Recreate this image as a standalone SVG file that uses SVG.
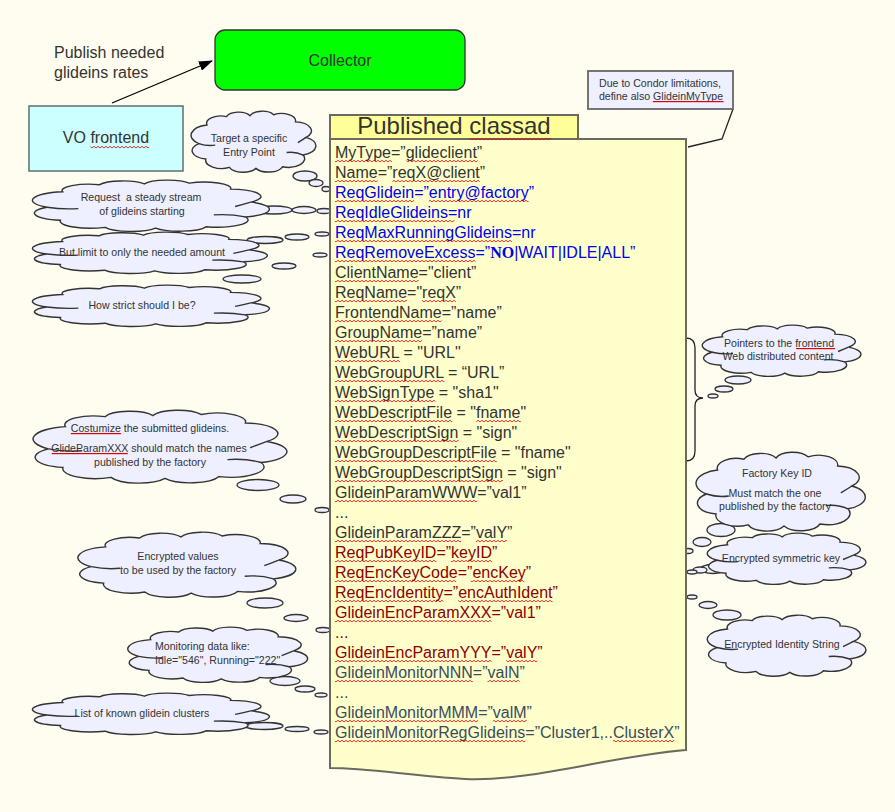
<svg xmlns="http://www.w3.org/2000/svg" width="895" height="812" viewBox="0 0 895 812">
<style>
text{font-family:"Liberation Sans",Arial,sans-serif;fill:#333333}
.big{font-size:16px}
.sm{font-size:10.6px}
.mid{text-anchor:middle}
.ln{font-size:16px}
.bl{fill:#0000EE}
.rd{fill:#8B0000}
.mo{fill:#3B4B5B}
.w1{fill:url(#wv1)}
.w2{fill:url(#wv2)}
.su{fill:#E00000}
.cl{fill:#EEF0FF;stroke:#333333;stroke-width:1.4;vector-effect:non-scaling-stroke}
.cr{fill:none;stroke:#333333;stroke-width:1.4;vector-effect:non-scaling-stroke}
.bb{fill:#EEF0FF;stroke:#333333;stroke-width:1.3}
.ctr{fill:none;stroke:#222222;stroke-width:1.3}
</style>
<defs>
<g id="cloud">
<path class="cl" d="M -0.92 0.05 A .34 .34 0 0 1 -0.78 -0.55 A .24 .24 0 0 1 -0.45 -0.82 A .22 .22 0 0 1 -0.05 -0.85 A .22 .22 0 0 1 0.35 -0.88 A .24 .24 0 0 1 0.72 -0.65 A .29 .29 0 0 1 0.9 -0.15 A .31 .31 0 0 1 0.85 0.42 A .28 .28 0 0 1 0.5 0.8 A .25 .25 0 0 1 0.05 0.85 A .25 .25 0 0 1 -0.4 0.82 A .27 .27 0 0 1 -0.8 0.55 A .28 .28 0 0 1 -0.92 0.05 Z"/>
<path class="cr" d="M -0.92 0.05 Q -0.78 0.14 -0.64 0.1 M 0.85 0.42 Q 0.72 0.3 0.57 0.34 M 0.9 -0.15 Q 0.82 -0.05 0.76 0.02"/>
</g>
<pattern id="wv1" x="0" y="3" width="4" height="4" patternUnits="userSpaceOnUse">
<path d="M0,3.2 L2,1.2 L4,3.2" fill="none" stroke="#E00000" stroke-width="0.9"/>
</pattern>
<pattern id="wv2" x="0" y="1" width="4" height="4" patternUnits="userSpaceOnUse">
<path d="M0,3.2 L2,1.2 L4,3.2" fill="none" stroke="#E00000" stroke-width="0.9"/>
</pattern>
<marker id="ah" viewBox="0 0 14 10" refX="13" refY="5" markerWidth="14" markerHeight="10" markerUnits="userSpaceOnUse" orient="auto">
<path d="M0,0 L14,5 L0,10 Z" fill="#000"/>
</marker>
</defs>
<rect x="0" y="0" width="895" height="812" fill="#FFFDF0"/>

<g id="connectors">
<line x1="112" y1="103" x2="212" y2="61" stroke="#000" stroke-width="1.3" marker-end="url(#ah)"/>
<polyline class="ctr" points="733,109 722,139 688,147"/>
<path class="ctr" d="M686,338 Q695,338 695,348 L695,390 Q695,398 703,398 Q695,398 695,406 L695,451 Q695,461 686,461"/>
<ellipse class="bb" cx="305" cy="176" rx="12" ry="5"/>
<ellipse class="bb" cx="316" cy="183" rx="7" ry="3.5"/>
<ellipse class="bb" cx="326" cy="189" rx="4" ry="2.5"/>
<ellipse class="bb" cx="274" cy="210" rx="18" ry="4"/>
<ellipse class="bb" cx="304" cy="210" rx="12" ry="3.5"/>
<ellipse class="bb" cx="324" cy="211" rx="7" ry="2.5"/>
<ellipse class="bb" cx="265" cy="240" rx="18" ry="3.5"/>
<ellipse class="bb" cx="297" cy="237" rx="12" ry="3"/>
<ellipse class="bb" cx="322" cy="234" rx="7" ry="2"/>
<ellipse class="bb" cx="242" cy="279" rx="19" ry="4"/>
<ellipse class="bb" cx="284" cy="266" rx="12" ry="3"/>
<ellipse class="bb" cx="320" cy="255" rx="7" ry="2"/>
<ellipse class="bb" cx="258" cy="485" rx="21" ry="5.5"/>
<ellipse class="bb" cx="293" cy="499" rx="13" ry="4"/>
<ellipse class="bb" cx="322" cy="510" rx="7" ry="2.5"/>
<ellipse class="bb" cx="265" cy="603" rx="18" ry="5"/>
<ellipse class="bb" cx="296" cy="618" rx="12" ry="3.5"/>
<ellipse class="bb" cx="323" cy="630" rx="7" ry="2.5"/>
<ellipse class="bb" cx="285" cy="681" rx="15" ry="4.5"/>
<ellipse class="bb" cx="305" cy="689" rx="10" ry="3"/>
<ellipse class="bb" cx="321" cy="695" rx="6" ry="2"/>
<ellipse class="bb" cx="264" cy="726" rx="19" ry="3.5"/>
<ellipse class="bb" cx="297" cy="729" rx="12" ry="2.5"/>
<ellipse class="bb" cx="321" cy="732" rx="7" ry="2"/>
<ellipse class="bb" cx="738" cy="380" rx="13" ry="4"/>
<ellipse class="bb" cx="724" cy="389" rx="9" ry="3"/>
<ellipse class="bb" cx="713" cy="396" rx="5" ry="2"/>
<ellipse class="bb" cx="721" cy="530" rx="14" ry="6.5"/>
<ellipse class="bb" cx="702" cy="542" rx="9" ry="4.5"/>
<ellipse class="bb" cx="688" cy="551" rx="5" ry="2.5"/>
<ellipse class="bb" cx="713" cy="569" rx="13" ry="4.5"/>
<ellipse class="bb" cx="700" cy="570" rx="7" ry="3"/>
<ellipse class="bb" cx="692" cy="572" rx="5" ry="2"/>
<ellipse class="bb" cx="692" cy="597" rx="5" ry="2"/>
<ellipse class="bb" cx="708" cy="605" rx="9" ry="3.5"/>
<ellipse class="bb" cx="727" cy="615" rx="14" ry="5"/>
</g>

<g id="collector">
<rect x="215" y="30" width="250" height="60" rx="10" fill="#00FF00" stroke="#333333" stroke-width="1.3"/>
<text class="big mid" x="340" y="66">Collector</text>
</g>

<g id="publish-label">
<text class="big" x="54" y="58">Publish needed</text>
<text class="big" x="54" y="78">glideins rates</text>
</g>

<g id="vo-frontend">
<rect x="29" y="106" width="154" height="65" fill="#CCFFFF" stroke="#5E7070" stroke-width="1.5"/>
<text class="big mid" x="106" y="143">VO frontend</text>
<rect class="w2" x="90.4" y="145" width="58.7" height="4"/>
</g>

<g id="note">
<rect x="588" y="71" width="145" height="38" fill="#EEF0FF" stroke="#666666" stroke-width="1.8"/>
<text class="sm mid" x="660" y="87">Due to Condor limitations,</text>
<text class="sm mid" x="661" y="100">define also GlideinMyType</text>
<rect class="su" x="652.8" y="101" width="70.7" height="1.2"/>
</g>

<g id="classad">
<path d="M330,139 H686 V750 C610,756 530,782 465,779 C410,776 370,768 330,768 Z" fill="#FFFFCC" stroke="#6B6B5B" stroke-width="2"/>
<rect x="330" y="115" width="248" height="24" fill="#FFFF99" stroke="#6B6B5B" stroke-width="2"/>
<text class="mid" x="454" y="134" font-size="24">Published classad</text>
<rect class="w2" x="469.4" y="137" width="81.4" height="4"/>
<text class="ln" x="335" y="158">MyType=”glideclient”</text>
<text class="ln" x="335" y="178">Name=”reqX@client”</text>
<text class="ln bl" x="335" y="198">ReqGlidein=”entry@factory”</text>
<text class="ln bl" x="335" y="218">ReqIdleGlideins=nr</text>
<text class="ln bl" x="335" y="238">ReqMaxRunningGlideins=nr</text>
<text class="ln bl" x="335" y="258">ReqRemoveExcess=”<tspan font-family="'Liberation Serif',serif" font-weight="bold">NO</tspan>|WAIT|IDLE|ALL”</text>
<text class="ln" x="335" y="278">ClientName="client”</text>
<text class="ln" x="335" y="298">ReqName="reqX”</text>
<text class="ln" x="335" y="318">FrontendName=”name”</text>
<text class="ln" x="335" y="338">GroupName=”name”</text>
<text class="ln" x="335" y="358">WebURL = "URL"</text>
<text class="ln" x="335" y="378">WebGroupURL = “URL”</text>
<text class="ln" x="335" y="398">WebSignType = "sha1"</text>
<text class="ln" x="335" y="418">WebDescriptFile = "fname"</text>
<text class="ln" x="335" y="438">WebDescriptSign = "sign"</text>
<text class="ln" x="335" y="458">WebGroupDescriptFile = "fname"</text>
<text class="ln" x="335" y="478">WebGroupDescriptSign = "sign"</text>
<text class="ln" x="335" y="498">GlideinParamWWW=”val1”</text>
<text class="ln" x="335" y="518">...</text>
<text class="ln" x="335" y="538">GlideinParamZZZ=”valY”</text>
<text class="ln rd" x="335" y="558">ReqPubKeyID=”keyID”</text>
<text class="ln rd" x="335" y="578">ReqEncKeyCode=”encKey”</text>
<text class="ln rd" x="335" y="598">ReqEncIdentity=”encAuthIdent”</text>
<text class="ln rd" x="335" y="618">GlideinEncParamXXX=”val1”</text>
<text class="ln rd" x="335" y="638">...</text>
<text class="ln rd" x="335" y="658">GlideinEncParamYYY=”valY”</text>
<text class="ln mo" x="335" y="678">GlideinMonitorNNN=”valN”</text>
<text class="ln mo" x="335" y="698">...</text>
<text class="ln mo" x="335" y="718">GlideinMonitorMMM=”valM”</text>
<text class="ln mo" x="335" y="738">GlideinMonitorRegGlideins=”Cluster1,..ClusterX”</text>
<g id="spellcheck">
<rect class="w1" x="335" y="159" width="56.9" height="4"/><rect class="w1" x="406.6" y="159" width="71.1" height="4"/>
<rect class="w1" x="335" y="179" width="42.7" height="4"/><rect class="w1" x="392.3" y="179" width="87.4" height="4"/>
<rect class="w1" x="335" y="199" width="79.1" height="4"/><rect class="w1" x="428.8" y="199" width="99.8" height="4"/>
<rect class="w1" x="335" y="219" width="119.4" height="4"/>
<rect class="w1" x="335" y="239" width="176.9" height="4"/>
<rect class="w1" x="335" y="259" width="140.5" height="4"/>
<rect class="w1" x="335" y="279" width="83.6" height="4"/>
<rect class="w1" x="335" y="299" width="72" height="4"/><rect class="w1" x="422" y="299" width="33.8" height="4"/>
<rect class="w1" x="335" y="319" width="106.7" height="4"/>
<rect class="w1" x="335" y="339" width="87.1" height="4"/>
<rect class="w1" x="335" y="359" width="64.9" height="4"/>
<rect class="w1" x="335" y="379" width="109.4" height="4"/>
<rect class="w1" x="335" y="399" width="100.5" height="4"/>
<rect class="w1" x="335" y="419" width="117.3" height="4"/><rect class="w1" x="476.3" y="419" width="44.5" height="4"/>
<rect class="w1" x="335" y="439" width="123.6" height="4"/>
<rect class="w1" x="335" y="459" width="161.8" height="4"/>
<rect class="w1" x="335" y="479" width="168" height="4"/>
<rect class="w1" x="335" y="499" width="142.2" height="4"/>
<rect class="w1" x="335" y="539" width="126.2" height="4"/><rect class="w1" x="475.9" y="539" width="31.1" height="4"/>
<rect class="w1" x="335" y="559" width="101.4" height="4"/><rect class="w1" x="451" y="559" width="40.9" height="4"/>
<rect class="w1" x="335" y="579" width="121.1" height="4"/><rect class="w1" x="470.8" y="579" width="53.4" height="4"/>
<rect class="w1" x="335" y="599" width="108.5" height="4"/><rect class="w1" x="458.2" y="599" width="94.3" height="4"/>
<rect class="w1" x="335" y="619" width="156.5" height="4"/>
<rect class="w1" x="335" y="659" width="156.5" height="4"/><rect class="w1" x="506.2" y="659" width="31.1" height="4"/>
<rect class="w1" x="335" y="679" width="137.8" height="4"/><rect class="w1" x="487.5" y="679" width="32" height="4"/>
<rect class="w1" x="335" y="719" width="143.1" height="4"/><rect class="w1" x="492.8" y="719" width="33.8" height="4"/>
<rect class="w1" x="335" y="739" width="190.3" height="4"/><rect class="w1" x="612.9" y="739" width="61.3" height="4"/>
</g>
</g>

<g id="cloud-target">
<use href="#cloud" transform="translate(253 142) scale(59 31)"/>
<text class="sm mid" x="249" y="142">Target a specific</text>
<text class="sm mid" x="249" y="156">Entry Point</text>
</g>
<g id="cloud-request">
<use href="#cloud" transform="translate(150 206) scale(112 26)"/>
<text class="sm mid" x="141" y="201" style="white-space:pre">Request  a steady stream</text>
<text class="sm mid" x="142" y="215">of glideins starting</text>
</g>
<g id="cloud-limit">
<use href="#cloud" transform="translate(149 253) scale(111 21)"/>
<text class="sm mid" x="142" y="256">But limit to only the needed amount</text>
</g>
<g id="cloud-strict">
<use href="#cloud" transform="translate(150 306) scale(112 21)"/>
<text class="sm mid" x="142" y="309">How strict should I be?</text>
</g>
<g id="cloud-customize">
<use href="#cloud" transform="translate(159 447) scale(120 37)"/>
<text class="sm mid" x="150" y="432">Costumize the submitted glideins.</text>
<text class="sm mid" x="149" y="452">GlideParamXXX should match the names</text>
<text class="sm mid" x="150" y="466">published by the factory</text>
<rect class="su" x="70.8" y="433" width="50.1" height="1.2"/>
<rect class="su" x="51.7" y="453" width="76.1" height="1.2"/>
</g>
<g id="cloud-encrypted">
<use href="#cloud" transform="translate(186 565) scale(103 33)"/>
<text class="sm mid" x="178" y="560">Encrypted values</text>
<text class="sm mid" x="178" y="574">to be used by the factory</text>
</g>
<g id="cloud-monitoring">
<use href="#cloud" transform="translate(217 655) scale(85 28)"/>
<text class="sm" x="155" y="650">Monitoring data like:</text>
<text class="sm" x="155" y="664">Idle="546", Running="222"</text>
</g>
<g id="cloud-clusters">
<use href="#cloud" transform="translate(150 714) scale(112 21)"/>
<text class="sm mid" x="142" y="717">List of known glidein clusters</text>
</g>
<g id="cloud-pointers">
<use href="#cloud" transform="translate(781 351) scale(75 26)"/>
<text class="sm mid" x="779" y="347">Pointers to the frontend</text>
<text class="sm mid" x="778" y="360">Web distributed content</text>
<rect class="su" x="796.2" y="348" width="38.9" height="1.2"/>
</g>
<g id="cloud-keyid">
<use href="#cloud" transform="translate(780 492) scale(80 40)"/>
<text class="sm mid" x="777" y="477">Factory Key ID</text>
<text class="sm mid" x="775" y="497">Must match the one</text>
<text class="sm mid" x="775" y="510">published by the factory</text>
</g>
<g id="cloud-symkey">
<use href="#cloud" transform="translate(786 559) scale(75 26)"/>
<text class="sm mid" x="781" y="562">Encrypted symmetric key</text>
</g>
<g id="cloud-identity">
<use href="#cloud" transform="translate(786 646) scale(75 31)"/>
<text class="sm mid" x="782" y="648">Encrypted Identity String</text>
</g>
</svg>
